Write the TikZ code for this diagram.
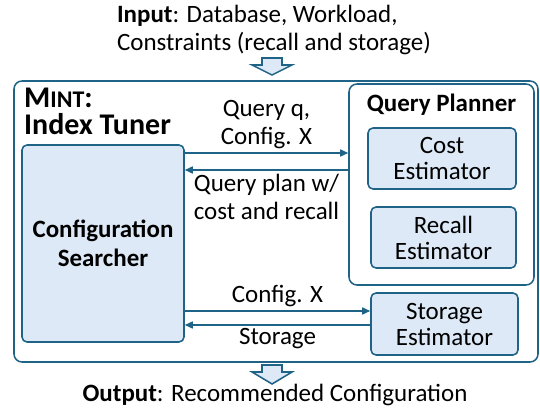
\documentclass[tikz,border=0pt]{standalone}
\usepackage{fontspec}
\setmainfont{Carlito}
\usetikzlibrary{arrows.meta}

\definecolor{edgeblue}{RGB}{31,99,135}
\definecolor{boxblue}{RGB}{221,233,246}

\tikzset{
  estbox/.style={draw=edgeblue, fill=boxblue, line width=2.2pt, rounded corners=0.25cm,
    align=center, inner sep=0pt, font=\fontsize{35.5}{37}\selectfont},
  outerbox/.style={draw=edgeblue, line width=2.2pt, rounded corners=0.4cm, inner sep=0pt},
  flow/.style={draw=edgeblue, line width=2.2pt, -{Triangle[length=0.4cm,width=0.35cm]}},
  msg/.style={align=center, font=\fontsize{35.5}{41}\selectfont, inner sep=0.15cm},
  blockarrow/.style={draw=edgeblue, fill=boxblue, line width=2.2pt, line join=miter}
}

\begin{document}
\begin{tikzpicture}
\useasboundingbox (0,0) rectangle (27,20.5);

% input
\node[msg, align=left] (input) at (13.7,19.0) {\textbf{Input}: Database, Workload,\\Constraints (recall and storage)};
\draw[blockarrow] (13.1,17.6) -- (14.1,17.6) -- (14.1,17.25) -- (14.6,17.25) -- (13.6,16.75) -- (12.6,17.25) -- (13.1,17.25) -- cycle;

% tuner frame
\node[outerbox, minimum width=26.2cm, minimum height=14.05cm] (tuner) at (13.8,9.425) {};
\node[anchor=north west, align=left, inner sep=0pt, font=\bfseries\fontsize{42.7}{38.5}\selectfont] (title) at (1.2,16.1) {M{\fontsize{34}{38.5}\selectfont INT}:\\Index Tuner};

\node[estbox, minimum width=8.1cm, minimum height=9.85cm, font=\bfseries\fontsize{35.5}{42}\selectfont] (searcher) at (5.15,8.325) {Configuration\\Searcher};

% query planner
\node[outerbox, fill=white, minimum width=9.25cm, minimum height=10.05cm] (planner) at (22.075,11.275) {};
\node[anchor=north, yshift=-0.55cm, inner sep=0pt, font=\bfseries\fontsize{35.5}{41}\selectfont] (plannerhdr) at (planner.north) {Query Planner};
\node[estbox, minimum width=7.4cm, minimum height=3.05cm] (cost) at (22.1,12.575) {Cost\\Estimator};
\node[estbox, minimum width=7.25cm, minimum height=3.05cm] (recall) at (22.175,8.625) {Recall\\Estimator};

\node[estbox, minimum width=7.35cm, minimum height=3.1cm] (storage) at (22.225,4.3) {Storage\\Estimator};

% messages
\draw[flow] (searcher.east |- 0,12.85) -- (planner.west |- 0,12.85) node[msg, midway, above] (askplan) {Query q,\\Config. X};
\draw[flow] (planner.west |- 0,12.0) -- (searcher.east |- 0,12.0) node[msg, midway, below] (getplan) {Query plan w/\\cost and recall};
\draw[flow] (searcher.east |- 0,4.95) -- (storage.west |- 0,4.95) node[msg, midway, above] (askstore) {Config. X};
\draw[flow] (storage.west |- 0,4.25) -- (searcher.east |- 0,4.25) node[msg, midway, below] (getstore) {Storage};

% output
\draw[blockarrow] (13.1,2.25) -- (14.1,2.25) -- (14.1,1.9) -- (14.6,1.9) -- (13.6,1.3) -- (12.6,1.9) -- (13.1,1.9) -- cycle;
\node[msg, anchor=base, inner sep=0pt] (output) at (13.75,0.45) {\textbf{Output}: Recommended Configuration};

\end{tikzpicture}
\end{document}
